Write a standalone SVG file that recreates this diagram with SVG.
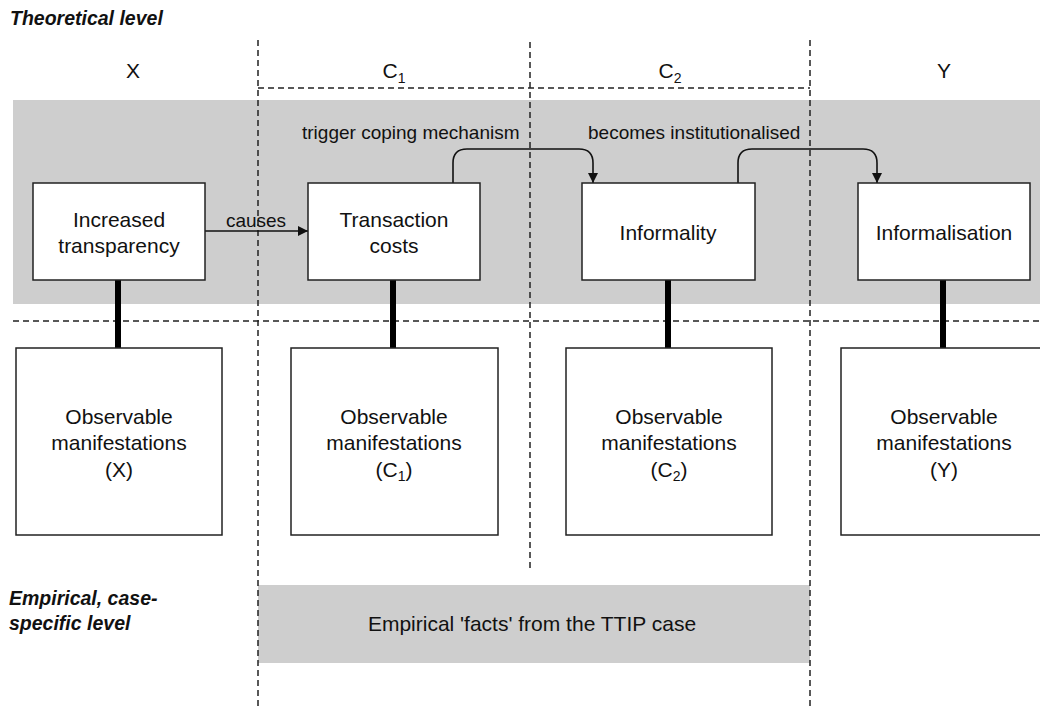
<svg xmlns="http://www.w3.org/2000/svg" width="1040" height="708" viewBox="0 0 1040 708">
<style>
text{font-family:"Liberation Sans",Arial,sans-serif;fill:#111;}
.lvl{font-weight:bold;font-style:italic;font-size:19.5px;}
.col{font-size:21px;text-anchor:middle;}
.big{font-size:21px;text-anchor:middle;}
.lab{font-size:19px;}
.box{fill:#fff;stroke:#222;stroke-width:1.5;}
.dash{stroke:#222;stroke-width:1.5;stroke-dasharray:6 4;fill:none;}
.conn{stroke:#111;stroke-width:1.6;fill:none;}
.thick{stroke:#000;stroke-width:6;}
.band{fill:#cecece;}
</style>
<defs>
<marker id="arr" viewBox="0 0 10 10" refX="10" refY="5" markerWidth="10" markerHeight="10" markerUnits="userSpaceOnUse" orient="auto">
<path d="M0,0 L10,5 L0,10 z" fill="#111"/>
</marker>
</defs>

<rect class="band" x="13" y="100" width="1027" height="204"/>
<rect class="band" x="258" y="585" width="552" height="78"/>

<g id="grid">
<line class="dash" x1="258" y1="40" x2="258" y2="708"/>
<line class="dash" x1="530" y1="42" x2="530" y2="570"/>
<line class="dash" x1="810" y1="40" x2="810" y2="708"/>
<line class="dash" x1="258" y1="88" x2="810" y2="88"/>
<line class="dash" x1="13" y1="321" x2="1040" y2="321"/>
</g>

<g id="labels">
<text class="lvl" x="10" y="25">Theoretical level</text>
<text class="lvl" x="9" y="605">Empirical, case-</text>
<text class="lvl" x="9" y="630">specific level</text>
<text class="col" x="133" y="78">X</text>
<text class="col" x="394" y="78">C<tspan font-size="14" dy="5">1</tspan></text>
<text class="col" x="670" y="78">C<tspan font-size="14" dy="5">2</tspan></text>
<text class="col" x="944" y="78">Y</text>
</g>

<g id="connectors">
<line class="thick" x1="118" y1="280" x2="118" y2="348"/>
<line class="thick" x1="393" y1="280" x2="393" y2="348"/>
<line class="thick" x1="668" y1="280" x2="668" y2="348"/>
<line class="thick" x1="943" y1="280" x2="943" y2="348"/>
<line class="conn" x1="205" y1="231" x2="308" y2="231" marker-end="url(#arr)"/>
<text class="lab" x="256" y="227" text-anchor="middle">causes</text>
<path class="conn" d="M453,183 V163 Q453,149 467,149 H579 Q593,149 593,163 V183" marker-end="url(#arr)"/>
<text class="lab" x="302" y="139">trigger coping mechanism</text>
<path class="conn" d="M738,183 V163 Q738,149 752,149 H863 Q877,149 877,163 V183" marker-end="url(#arr)"/>
<text class="lab" x="588" y="139">becomes institutionalised</text>
</g>

<g id="node-x">
<rect class="box" x="33" y="183" width="172" height="97"/>
<text class="big" x="119" y="227">Increased</text>
<text class="big" x="119" y="253">transparency</text>
</g>
<g id="node-c1">
<rect class="box" x="308" y="183" width="172" height="97"/>
<text class="big" x="394" y="227">Transaction</text>
<text class="big" x="394" y="253">costs</text>
</g>
<g id="node-c2">
<rect class="box" x="582" y="183" width="173" height="97"/>
<text class="big" x="668" y="240">Informality</text>
</g>
<g id="node-y">
<rect class="box" x="858" y="183" width="172" height="97"/>
<text class="big" x="944" y="240">Informalisation</text>
</g>

<g id="obs-x">
<rect class="box" x="16" y="348" width="206" height="187"/>
<text class="big" x="119" y="424">Observable</text>
<text class="big" x="119" y="450">manifestations</text>
<text class="big" x="119" y="477">(X)</text>
</g>
<g id="obs-c1">
<rect class="box" x="291" y="348" width="207" height="187"/>
<text class="big" x="394" y="424">Observable</text>
<text class="big" x="394" y="450">manifestations</text>
<text class="big" x="394" y="477">(C<tspan font-size="14" dy="4">1</tspan><tspan dy="-4">)</tspan></text>
</g>
<g id="obs-c2">
<rect class="box" x="566" y="348" width="206" height="187"/>
<text class="big" x="669" y="424">Observable</text>
<text class="big" x="669" y="450">manifestations</text>
<text class="big" x="669" y="477">(C<tspan font-size="14" dy="4">2</tspan><tspan dy="-4">)</tspan></text>
</g>
<g id="obs-y">
<rect class="box" x="841" y="348" width="206" height="187"/>
<text class="big" x="944" y="424">Observable</text>
<text class="big" x="944" y="450">manifestations</text>
<text class="big" x="944" y="477">(Y)</text>
</g>

<g id="empirical">
<text class="big" x="532" y="631">Empirical 'facts' from the TTIP case</text>
</g>
</svg>
